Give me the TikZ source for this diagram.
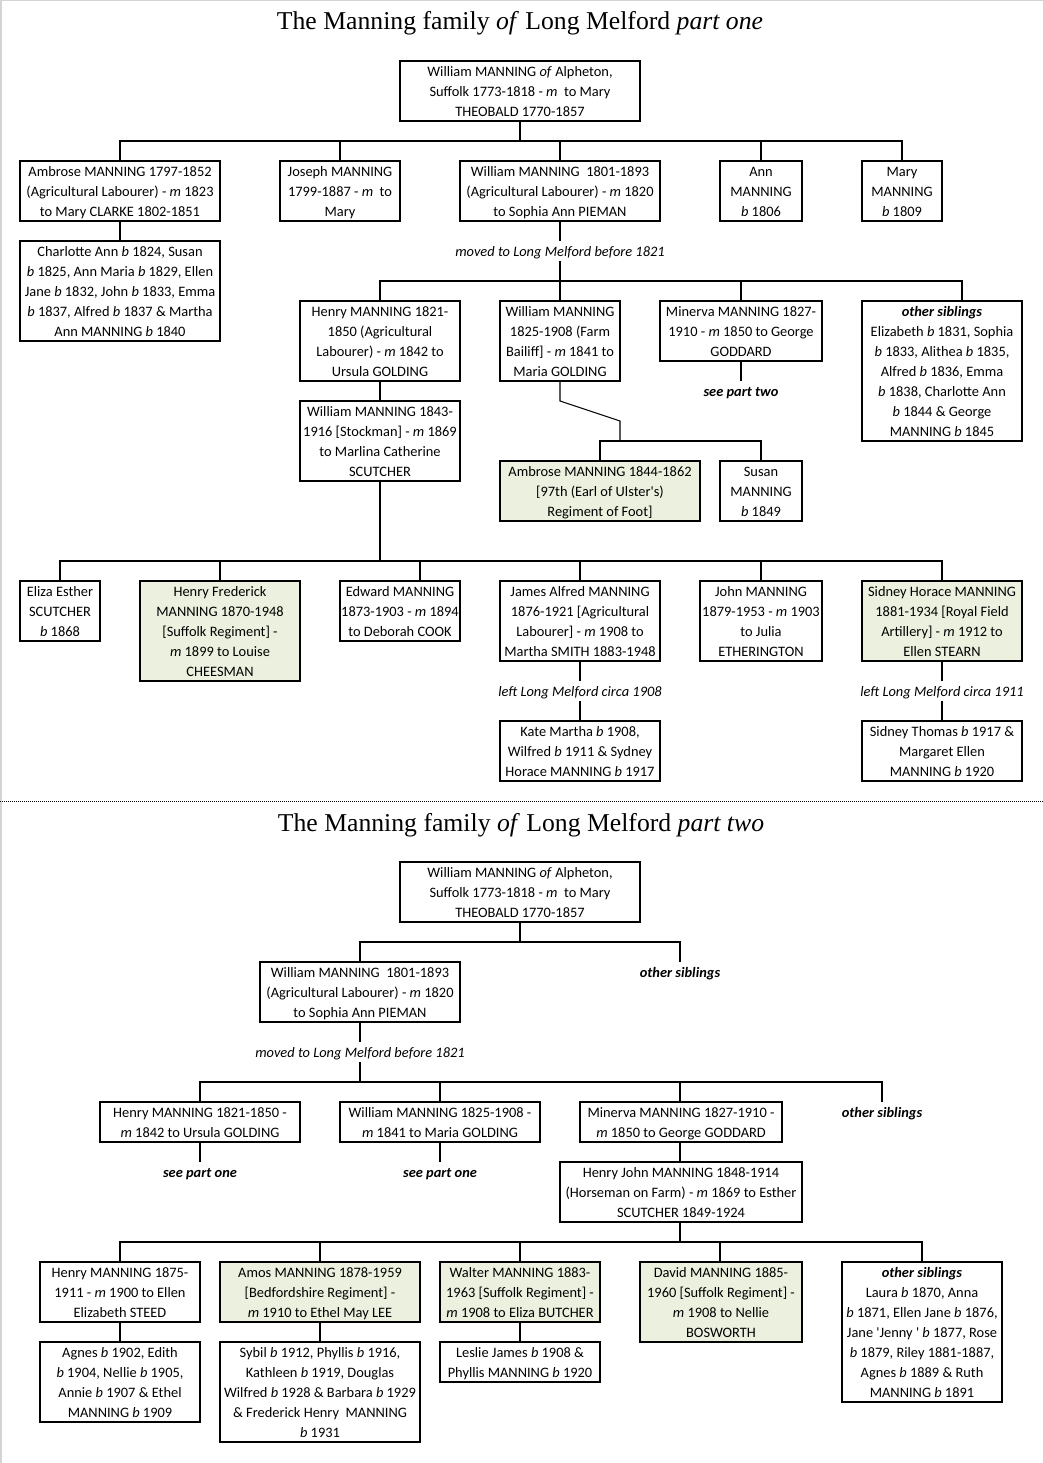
\documentclass[tikz,border=0pt]{standalone}
\usepackage{fontspec}
\newfontfamily\calfont{Carlito}
\newfontfamily\ttlfont{Liberation Serif}
\definecolor{boxgreen}{HTML}{EBF1DE}
\definecolor{frame}{HTML}{D4D4D4}
\tikzset{
  box/.style={draw=black, line width=1.1pt, inner sep=0pt, align=center,
    font=\calfont\fontsize{14.4pt}{20pt}\selectfont},
  greenbox/.style={box, fill=boxgreen},
  lbl/.style={inner sep=0pt, align=center,
    font=\calfont\fontsize{14.4pt}{20pt}\selectfont\itshape},
  blbl/.style={lbl, font=\calfont\fontsize{14.4pt}{20pt}\selectfont\bfseries\itshape},
  conn/.style={draw=black, line width=1.1pt},
  ttl/.style={inner sep=0pt, anchor=base, font=\ttlfont\fontsize{25.7pt}{30pt}\selectfont},
}
\newcommand\strutted[1]{\rule{0pt}{15.5pt}#1\rule[-4.5pt]{0pt}{4.5pt}}
\newcommand\bx[7][box]{\node[#1, minimum width={(#4)-(#3)}, minimum height={(#6)-(#5)}] (#2) at ({((#3)+(#4))/2},{((#5)+(#6))/2}) {\strutted{#7}};}
\newcommand\lab[5][lbl]{\node[#1] (#2) at (#3,#4) {\strutted{#5}};}
\newcommand\bb{\textit{b}}
\newcommand\mm{\textit{m}}
\begin{document}
\begin{tikzpicture}[x=1pt,y=-1pt]
\useasboundingbox (0,0) rectangle (1043,1463);
\fill[white] (0,0) rectangle (1043,1463);
\draw[frame, line width=1.5pt] (0.75,1463) -- (0.75,0.75) -- (1043,0.75);

% ================= PART ONE =================
\node[ttl] (title1) at (520,30) {The Manning family \textit{of} Long Melford \textit{part one}};

\bx{top1}{400}{640}{61}{121}{William MANNING \textit{of} Alpheton,\\ Suffolk 1773-1818 - \mm\ \ to Mary\\ THEOBALD 1770-1857}

\bx{ambrose}{20}{220}{161}{221}{Ambrose MANNING 1797-1852\\ (Agricultural Labourer) - \mm\ 1823\\ to Mary CLARKE 1802-1851}
\bx{joseph}{280}{400}{161}{221}{Joseph MANNING\\ 1799-1887 - \mm\ \ to\\ Mary}
\bx{william}{460}{660}{161}{221}{William MANNING\ \ 1801-1893\\ (Agricultural Labourer) - \mm\ 1820\\ to Sophia Ann PIEMAN}
\bx{ann}{720}{802}{161}{221}{Ann\\ MANNING\\ \bb\ 1806}
\bx{mary}{862}{942}{161}{221}{Mary\\ MANNING\\ \bb\ 1809}

\coordinate (barA) at (0,141);
\draw[conn] (top1.south) -- (top1.south |- barA);
\draw[conn] (ambrose.north) -- (ambrose.north |- barA) -- (mary.north |- barA) -- (mary.north);
\draw[conn] (joseph.north) -- (joseph.north |- barA);
\draw[conn] (william.north) -- (william.north |- barA);
\draw[conn] (ann.north) -- (ann.north |- barA);

\bx{ambkids}{20}{220}{241}{341}{Charlotte Ann \bb\ 1824, Susan\\ \bb\ 1825, Ann Maria \bb\ 1829, Ellen\\ Jane \bb\ 1832, John \bb\ 1833, Emma\\ \bb\ 1837, Alfred \bb\ 1837 \& Martha\\ Ann MANNING \bb\ 1840}
\draw[conn] (ambrose.south) -- (ambkids.north);

\lab{moved1}{560}{251}{moved to Long Melford before 1821}
\draw[conn] (william.south) -- (moved1.north);

\bx{henry}{300}{460}{301}{381}{Henry MANNING 1821-\\ 1850 (Agricultural\\ Labourer) - \mm\ 1842 to\\ Ursula GOLDING}
\bx{williamB}{500}{620}{301}{381}{William MANNING\\ 1825-1908 (Farm\\ Bailiff] - \mm\ 1841 to\\ Maria GOLDING}
\bx{minerva}{660}{822}{301}{361}{Minerva MANNING 1827-\\ 1910 - \mm\ 1850 to George\\ GODDARD}
\bx{others1}{862}{1022}{301}{441}{\textbf{\textit{other siblings}}\\ Elizabeth \bb\ 1831, Sophia\\ \bb\ 1833, Alithea \bb\ 1835,\\ Alfred \bb\ 1836, Emma\\ \bb\ 1838, Charlotte Ann\\ \bb\ 1844 \& George\\ MANNING \bb\ 1845}

\coordinate (barB) at (0,281);
\coordinate (othtick) at (962,281);
\draw[conn] (moved1.south) -- (moved1.south |- barB);
\draw[conn] (henry.north) -- (henry.north |- barB) -- (othtick) -- (othtick |- others1.north);
\draw[conn] (williamB.north) -- (williamB.north |- barB);
\draw[conn] (minerva.north) -- (minerva.north |- barB);

\lab[blbl]{seetwo}{741}{391}{see part two}
\draw[conn] (minerva.south) -- (seetwo.north);

\bx{william3}{300}{460}{401}{481}{William MANNING 1843-\\ 1916 [Stockman] - \mm\ 1869\\ to Marlina Catherine\\ SCUTCHER}
\draw[conn] (henry.south) -- (william3.north);

\bx[greenbox]{ambrose2}{500}{700}{461}{521}{Ambrose MANNING 1844-1862\\{}[97th (Earl of Ulster's)\\ Regiment of Foot]}
\bx{susan}{720}{802}{461}{521}{Susan\\ MANNING\\ \bb\ 1849}
\coordinate (kinkA) at (560,401);
\coordinate (kinkB) at (620,421);
\coordinate (barC) at (0,441);
\draw[conn] (williamB.south) -- (kinkA) -- (kinkB) -- (kinkB |- barC);
\draw[conn] (ambrose2.north) -- (ambrose2.north |- barC) -- (susan.north |- barC) -- (susan.north);

\bx{eliza}{20}{100}{581}{641}{Eliza Esther\\ SCUTCHER\\ \bb\ 1868}
\bx[greenbox]{henryf}{140}{300}{581}{681}{Henry Frederick\\ MANNING 1870-1948\\{}[Suffolk Regiment] -\\ \mm\ 1899 to Louise\\ CHEESMAN}
\bx{edward}{340}{460}{581}{641}{Edward MANNING\\ 1873-1903 - \mm\ 1894\\ to Deborah COOK}
\bx{james}{500}{660}{581}{661}{James Alfred MANNING\\ 1876-1921 [Agricultural\\ Labourer] - \mm\ 1908 to\\ Martha SMITH 1883-1948}
\bx{john}{700}{822}{581}{661}{John MANNING\\ 1879-1953 - \mm\ 1903\\ to Julia\\ ETHERINGTON}
\bx[greenbox]{sidney}{862}{1022}{581}{661}{Sidney Horace MANNING\\ 1881-1934 [Royal Field\\ Artillery] - \mm\ 1912 to\\ Ellen STEARN}

\coordinate (barD) at (0,561);
\coordinate (edtick) at (420,561);
\draw[conn] (william3.south) -- (william3.south |- barD);
\draw[conn] (eliza.north) -- (eliza.north |- barD) -- (sidney.north |- barD) -- (sidney.north);
\draw[conn] (henryf.north) -- (henryf.north |- barD);
\draw[conn] (edtick) -- (edtick |- edward.north);
\draw[conn] (james.north) -- (james.north |- barD);
\draw[conn] (john.north) -- (john.north |- barD);

\lab{left1908}{580}{691}{left Long Melford circa 1908}
\lab{left1911}{942}{691}{left Long Melford circa 1911}
\bx{kate}{500}{660}{721}{781}{Kate Martha \bb\ 1908,\\ Wilfred \bb\ 1911 \& Sydney\\ Horace MANNING \bb\ 1917}
\bx{sidkids}{862}{1022}{721}{781}{Sidney Thomas \bb\ 1917 \&\\ Margaret Ellen\\ MANNING \bb\ 1920}
\draw[conn] (james.south) -- (left1908.north);
\draw[conn] (left1908.south) -- (kate.north);
\draw[conn] (sidney.south) -- (left1911.north);
\draw[conn] (left1911.south) -- (sidkids.north);

% divider
\coordinate (divL) at (0,801.5);
\coordinate (divR) at (1043,801.5);
\draw[line width=1pt, dash pattern=on 1pt off 1pt] (divL) -- (divR);

% ================= PART TWO =================
\node[ttl] (title2) at (521,831) {The Manning family \textit{of} Long Melford \textit{part two}};

\bx{top2}{400}{640}{862}{922}{William MANNING \textit{of} Alpheton,\\ Suffolk 1773-1818 - \mm\ \ to Mary\\ THEOBALD 1770-1857}
\bx{williamP}{260}{460}{962}{1022}{William MANNING\ \ 1801-1893\\ (Agricultural Labourer) - \mm\ 1820\\ to Sophia Ann PIEMAN}
\lab[blbl]{othA}{680}{972}{other siblings}
\coordinate (barE) at (0,942);
\draw[conn] (top2.south) -- (top2.south |- barE);
\draw[conn] (williamP.north) -- (williamP.north |- barE) -- (othA.north |- barE) -- (othA.north);

\lab{moved2}{360}{1052}{moved to Long Melford before 1821}
\draw[conn] (williamP.south) -- (moved2.north);

\bx{henryP}{100}{300}{1102}{1142}{Henry MANNING 1821-1850 -\\ \mm\ 1842 to Ursula GOLDING}
\bx{williamQ}{340}{540}{1102}{1142}{William MANNING 1825-1908 -\\ \mm\ 1841 to Maria GOLDING}
\bx{minervaP}{580}{782}{1102}{1142}{Minerva MANNING 1827-1910 -\\ \mm\ 1850 to George GODDARD}
\lab[blbl]{othB}{882}{1112}{other siblings}
\coordinate (barF) at (0,1082);
\coordinate (mintick) at (680,1082);
\draw[conn] (moved2.south) -- (moved2.south |- barF);
\draw[conn] (henryP.north) -- (henryP.north |- barF) -- (othB.north |- barF) -- (othB.north);
\draw[conn] (williamQ.north) -- (williamQ.north |- barF);
\draw[conn] (mintick) -- (mintick |- minervaP.north);

\lab[blbl]{seeoneA}{200}{1172}{see part one}
\lab[blbl]{seeoneB}{440}{1172}{see part one}
\draw[conn] (henryP.south) -- (seeoneA.north);
\draw[conn] (williamQ.south) -- (seeoneB.north);

\bx{hj}{560}{802}{1162}{1222}{Henry John MANNING 1848-1914\\ (Horseman on Farm) - \mm\ 1869 to Esther\\ SCUTCHER 1849-1924}
\coordinate (hjtop) at (680,1162);
\coordinate (hjbot) at (680,1222);
\draw[conn] (mintick |- minervaP.south) -- (hjtop);

\bx{henry75}{40}{200}{1262}{1322}{Henry MANNING 1875-\\ 1911 - \mm\ 1900 to Ellen\\ Elizabeth STEED}
\bx[greenbox]{amos}{220}{420}{1262}{1322}{Amos MANNING 1878-1959\\{}[Bedfordshire Regiment] -\\ \mm\ 1910 to Ethel May LEE}
\bx[greenbox]{walter}{440}{600}{1262}{1322}{Walter MANNING 1883-\\ 1963 [Suffolk Regiment] -\\ \mm\ 1908 to Eliza BUTCHER}
\bx[greenbox]{david}{640}{802}{1262}{1342}{David MANNING 1885-\\ 1960 [Suffolk Regiment] -\\ \mm\ 1908 to Nellie\\ BOSWORTH}
\bx{others2}{842}{1002}{1262}{1402}{\textbf{\textit{other siblings}}\\ Laura \bb\ 1870, Anna\\ \bb\ 1871, Ellen Jane \bb\ 1876,\\ Jane 'Jenny ' \bb\ 1877, Rose\\ \bb\ 1879, Riley 1881-1887,\\ Agnes \bb\ 1889 \& Ruth\\ MANNING \bb\ 1891}
\coordinate (barG) at (0,1242);
\coordinate (davtick) at (720,1242);
\draw[conn] (hjbot) -- (hjbot |- barG);
\draw[conn] (henry75.north) -- (henry75.north |- barG) -- (others2.north |- barG) -- (others2.north);
\draw[conn] (amos.north) -- (amos.north |- barG);
\draw[conn] (walter.north) -- (walter.north |- barG);
\draw[conn] (davtick) -- (davtick |- david.north);

\bx{agnes}{40}{200}{1342}{1422}{Agnes \bb\ 1902, Edith\\ \bb\ 1904, Nellie \bb\ 1905,\\ Annie \bb\ 1907 \& Ethel\\ MANNING \bb\ 1909}
\bx{sybil}{220}{420}{1342}{1442}{Sybil \bb\ 1912, Phyllis \bb\ 1916,\\ Kathleen \bb\ 1919, Douglas\\ Wilfred \bb\ 1928 \& Barbara \bb\ 1929\\ \& Frederick Henry\ \ MANNING\\ \bb\ 1931}
\bx{leslie}{440}{600}{1342}{1382}{Leslie James \bb\ 1908 \&\\ Phyllis MANNING \bb\ 1920}
\draw[conn] (henry75.south) -- (agnes.north);
\draw[conn] (amos.south) -- (sybil.north);
\draw[conn] (walter.south) -- (leslie.north);
\end{tikzpicture}
\end{document}
